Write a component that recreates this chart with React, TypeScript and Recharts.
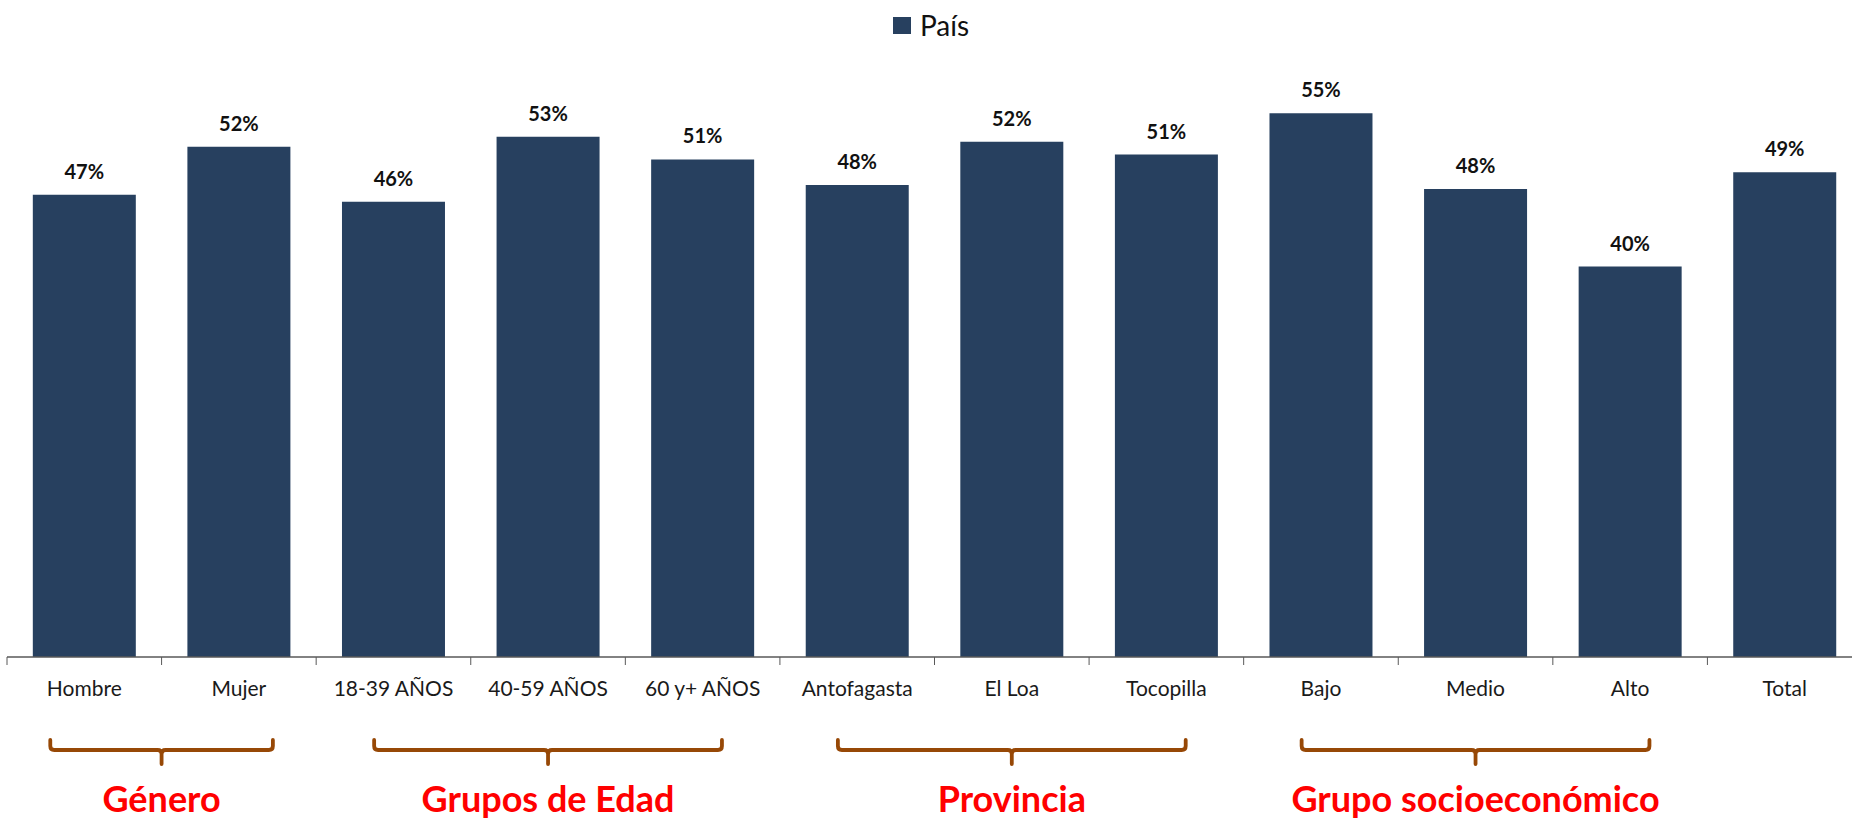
import { BarChart, Bar, XAxis, YAxis, LabelList } from "recharts";

const categories = [
  "Hombre",
  "Mujer",
  "18-39 AÑOS",
  "40-59 AÑOS",
  "60 y+ AÑOS",
  "Antofagasta",
  "El Loa",
  "Tocopilla",
  "Bajo",
  "Medio",
  "Alto",
  "Total",
];
const paisValues = [47.0, 51.9, 46.3, 52.9, 50.6, 48.0, 52.4, 51.1, 55.3, 47.6, 39.7, 49.3];
const groupNames = ["Género", "Grupos de Edad", "Provincia", "Grupo socioeconómico"];
const groupSizes = [2, 3, 3, 3];
const seriesName = "País";

const data = categories.map((name, i) => ({ name, pais: paisValues[i] }));

const CHART_W = 1862;
const CHART_H = 821;
const MARGIN = { top: 67, right: 0, left: 7, bottom: 0 };
const AXIS_H = 164;
const AXIS_Y = CHART_H - AXIS_H;
const STEP = (CHART_W - MARGIN.left - MARGIN.right) / categories.length;
const BAR_COLOR = "#27405F";
const AXIS_COLOR = "#595959";
const BRACKET_COLOR = "#974806";
const FONT = "Lato, 'Open Sans', sans-serif";

// index of first category of each group
const groupStarts: Record<number, number> = {};
let acc = 0;
groupSizes.forEach((n, g) => {
  groupStarts[acc] = g;
  acc += n;
});

function Bracket({ c, half }: { c: number; half: number }) {
  const L = c - half;
  const R = c + half;
  const top = AXIS_Y + 83;
  const mid = AXIS_Y + 93;
  const tip = AXIS_Y + 107;
  const r = 4;
  const d = [
    `M${L},${top} V${mid - r} Q${L},${mid} ${L + r},${mid} H${c - r} Q${c},${mid} ${c},${mid + r} V${tip}`,
    `M${c},${mid + r} Q${c},${mid} ${c + r},${mid} H${R - r} Q${R},${mid} ${R},${mid - r} V${top}`,
  ].join(" ");
  return <path d={d} fill="none" stroke={BRACKET_COLOR} strokeWidth={3.8} strokeLinecap="round" />;
}

function CategoryTick(props: any) {
  const { x, payload } = props;
  const i: number = payload.index;
  const left = x - STEP / 2;
  const g = groupStarts[i];
  let group = null;
  if (g !== undefined) {
    const n = groupSizes[g];
    const c = x + ((n - 1) * STEP) / 2;
    group = (
      <g>
        <Bracket c={c} half={n * STEP * (n === 2 ? 0.36 : 0.375)} />
        <text
          x={c}
          y={AXIS_Y + 155}
          textAnchor="middle"
          fontFamily={FONT}
          fontWeight={700}
          fontSize={36}
          fill="#FF0000"
        >
          {groupNames[g]}
        </text>
      </g>
    );
  }
  return (
    <g>
      <line x1={left} y1={AXIS_Y} x2={left} y2={AXIS_Y + 8} stroke={AXIS_COLOR} strokeWidth={1} />
      {i === categories.length - 1 && (
        <line x1={left + STEP} y1={AXIS_Y} x2={left + STEP} y2={AXIS_Y + 8} stroke={AXIS_COLOR} />
      )}
      <text
        x={x}
        y={AXIS_Y + 39}
        textAnchor="middle"
        fontFamily={FONT}
        fontSize={21}
        fill="#1a1a1a"
      >
        {payload.value}
      </text>
      {group}
    </g>
  );
}

export default function App() {
  return (
    <div
      style={{
        position: "absolute",
        left: 0,
        top: 0,
        width: 1852,
        height: 821,
        overflow: "hidden",
        background: "#fff",
      }}
    >
      <div
        style={{
          position: "absolute",
          left: 893,
          top: 8,
          display: "flex",
          alignItems: "center",
          fontFamily: FONT,
          fontSize: 28,
          color: "#111",
        }}
      >
        <span style={{ width: 18, height: 17, background: BAR_COLOR, display: "inline-block", marginRight: 9 }} />
        <span>{seriesName}</span>
      </div>
      <BarChart width={CHART_W} height={CHART_H} data={data} margin={MARGIN} barCategoryGap="16.7%">
        <XAxis
          dataKey="name"
          height={AXIS_H}
          interval={0}
          tickLine={false}
          axisLine={{ stroke: AXIS_COLOR, strokeWidth: 1.5 }}
          tick={<CategoryTick />}
        />
        <YAxis hide domain={[0, 60]} />
        <Bar dataKey="pais" name={seriesName} fill={BAR_COLOR} isAnimationActive={false}>
          <LabelList
            dataKey="pais"
            position="top"
            offset={16}
            formatter={(v: any) => `${Math.round(Number(v))}%`}
            style={{ fontFamily: FONT, fontWeight: 700, fontSize: 20, fill: "#111" }}
          />
        </Bar>
      </BarChart>
    </div>
  );
}
